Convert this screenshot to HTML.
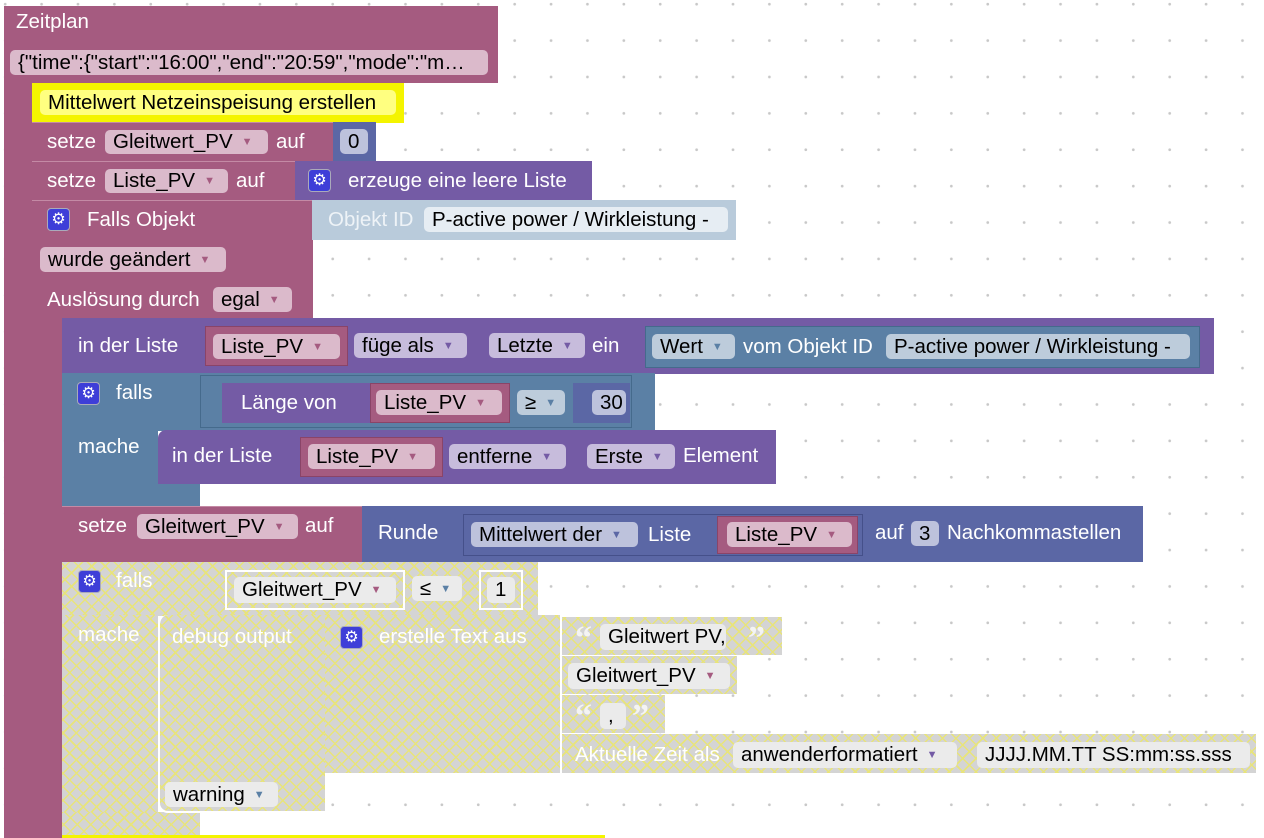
<!DOCTYPE html>
<html><head><meta charset="utf-8"><style>
html,body{margin:0;padding:0}
body{width:1264px;height:838px;overflow:hidden;position:relative;background:#fff;
background-image:radial-gradient(circle,#c8c8c8 1.2px,transparent 1.6px);background-size:36.4px 36.4px;background-position:-13px -14px;
font-family:"Liberation Sans",sans-serif}
.b{position:absolute;box-sizing:border-box}
.t{position:absolute;color:#fff;font-size:20.5px;line-height:24px;white-space:nowrap}
.f{position:absolute;border-radius:5px;color:#000;font-size:20.5px;display:flex;align-items:center;padding-left:8px;box-sizing:border-box;white-space:nowrap;overflow:hidden}
.a{font-size:11px;margin-left:9px}
.pk{background:#a55b80}.pf{background:#dbbacb}
.pu{background:#745ba5}.puf{background:#c7bcdc}
.lo{background:#5b80a5}.lof{background:#bdccdb}
.ma{background:#5b67a5}.maf{background:#bdc2dc}
.dis{background:repeating-linear-gradient(45deg,transparent 0 8px,#e8e47a 8px 9.5px),repeating-linear-gradient(-45deg,transparent 0 8px,#e8e47a 8px 9.5px),#d4d4d4}
.df{background:#ebebeb}
.q{position:absolute;color:#f4f4f4;font-size:34px;font-weight:bold;font-family:"Liberation Serif",serif;line-height:34px}
.g{position:absolute;width:23px;height:23px;border-radius:4px;background:#3e3ed8;border:1px solid #aab;box-sizing:border-box;color:#fff;font-size:16px;line-height:21px;text-align:center}
</style></head><body>
<!-- Zeitplan -->
<div class="b pk" style="left:4px;top:6px;width:494px;height:77px"></div>
<div class="b pk" style="left:4px;top:82px;width:29px;height:756px"></div>
<div class="t" style="left:16px;top:10px">Zeitplan</div>
<div class="f pf" style="left:10px;top:50px;width:478px;height:25px">{"time":{"start":"16:00","end":"20:59","mode":"m…</div>
<!-- comment -->
<div class="b" style="left:32px;top:83px;width:372px;height:40px;background:#f4f400"></div>
<div class="f" style="left:40px;top:90px;width:356px;height:25px;background:#ffff80">Mittelwert Netzeinspeisung erstellen</div>
<!-- setze Gleitwert -->
<div class="b pk" style="left:32px;top:122px;width:302px;height:40px;border-top:1px solid #c48aa5"></div>
<div class="t" style="left:47px;top:130px">setze</div>
<div class="f pf" style="left:105px;top:130px;width:163px;height:24px">Gleitwert_PV<span class="a" style="color:#a55b80">▼</span></div>
<div class="t" style="left:276px;top:130px">auf</div>
<div class="b ma" style="left:333px;top:122px;width:43px;height:40px"></div>
<div class="f maf" style="left:340px;top:129px;width:28px;height:25px">0</div>
<!-- setze Liste -->
<div class="b pk" style="left:32px;top:161px;width:264px;height:40px;border-top:1px solid #c48aa5"></div>
<div class="t" style="left:47px;top:169px">setze</div>
<div class="f pf" style="left:105px;top:169px;width:123px;height:24px">Liste_PV<span class="a" style="color:#a55b80">▼</span></div>
<div class="t" style="left:236px;top:169px">auf</div>
<div class="b pu" style="left:295px;top:161px;width:297px;height:40px"></div>
<div class="g" style="left:308px;top:169px">⚙</div>
<div class="t" style="left:348px;top:169px">erzeuge eine leere Liste</div>
<!-- Falls Objekt -->
<div class="b pk" style="left:32px;top:200px;width:281px;height:119px;border-top:1px solid #c48aa5"></div>
<div class="b pk" style="left:32px;top:318px;width:30px;height:520px"></div>
<div class="g" style="left:47px;top:208px">⚙</div>
<div class="t" style="left:87px;top:208px">Falls Objekt</div>
<div class="b" style="left:312px;top:200px;width:424px;height:40px;background:#b9cbdb"></div>
<div class="t" style="left:328px;top:208px;color:#eef3f7">Objekt ID</div>
<div class="f" style="left:424px;top:207px;width:304px;height:25px;background:#e6edf3">P-active power / Wirkleistung -</div>
<div class="f pf" style="left:40px;top:247px;width:186px;height:25px">wurde geändert<span class="a" style="color:#a55b80">▼</span></div>
<div class="t" style="left:47px;top:288px">Auslösung durch</div>
<div class="f pf" style="left:213px;top:287px;width:79px;height:25px">egal<span class="a" style="color:#a55b80">▼</span></div>
<!-- in der Liste -->
<div class="b pu" style="left:62px;top:318px;width:1152px;height:56px"></div>
<div class="t" style="left:78px;top:334px">in der Liste</div>
<div class="b pk" style="left:205px;top:326px;width:143px;height:40px;border:1px solid #8a4468"></div>
<div class="f pf" style="left:213px;top:334px;width:127px;height:25px">Liste_PV<span class="a" style="color:#a55b80">▼</span></div>
<div class="f puf" style="left:354px;top:333px;width:113px;height:25px">füge als<span class="a" style="color:#745ba5">▼</span></div>
<div class="f puf" style="left:489px;top:333px;width:96px;height:25px">Letzte<span class="a" style="color:#745ba5">▼</span></div>
<div class="t" style="left:592px;top:334px">ein</div>
<div class="b lo" style="left:645px;top:326px;width:555px;height:42px;border:1px solid #456a8c"></div>
<div class="f lof" style="left:652px;top:334px;width:83px;height:25px">Wert<span class="a" style="color:#5b80a5">▼</span></div>
<div class="t" style="left:743px;top:335px">vom Objekt ID</div>
<div class="f lof" style="left:886px;top:334px;width:304px;height:25px">P-active power / Wirkleistung -</div>
<!-- falls -->
<div class="b lo" style="left:62px;top:373px;width:593px;height:58px"></div>
<div class="b lo" style="left:62px;top:430px;width:96px;height:62px"></div>
<div class="b lo" style="left:62px;top:484px;width:138px;height:23px"></div>
<div class="g" style="left:77px;top:382px">⚙</div>
<div class="t" style="left:116px;top:381px">falls</div>
<div class="t" style="left:78px;top:435px">mache</div>
<div class="b lo" style="left:200px;top:375px;width:432px;height:53px;border:1px solid #456a8c"></div>
<div class="b pu" style="left:222px;top:383px;width:148px;height:40px"></div>
<div class="t" style="left:241px;top:391px">Länge von</div>
<div class="b pk" style="left:370px;top:383px;width:140px;height:40px;border:1px solid #8a4468"></div>
<div class="f pf" style="left:376px;top:390px;width:126px;height:25px">Liste_PV<span class="a" style="color:#a55b80">▼</span></div>
<div class="f lof" style="left:517px;top:390px;width:48px;height:25px">≥<span class="a" style="color:#5b80a5">▼</span></div>
<div class="b ma" style="left:573px;top:383px;width:57px;height:40px"></div>
<div class="f maf" style="left:592px;top:390px;width:34px;height:25px">30</div>
<!-- inner in der Liste -->
<div class="b pu" style="left:158px;top:430px;width:618px;height:54px;border-radius:8px 0 0 0"></div>
<div class="t" style="left:172px;top:444px">in der Liste</div>
<div class="b pk" style="left:300px;top:437px;width:143px;height:40px;border:1px solid #8a4468"></div>
<div class="f pf" style="left:308px;top:444px;width:127px;height:25px">Liste_PV<span class="a" style="color:#a55b80">▼</span></div>
<div class="f puf" style="left:449px;top:444px;width:117px;height:25px">entferne<span class="a" style="color:#745ba5">▼</span></div>
<div class="f puf" style="left:587px;top:444px;width:88px;height:25px">Erste<span class="a" style="color:#745ba5">▼</span></div>
<div class="t" style="left:683px;top:444px">Element</div>
<!-- setze Gleitwert Runde -->
<div class="b pk" style="left:62px;top:506px;width:301px;height:56px;border-top:1px solid #c48aa5"></div>
<div class="t" style="left:78px;top:514px">setze</div>
<div class="f pf" style="left:137px;top:514px;width:161px;height:25px">Gleitwert_PV<span class="a" style="color:#a55b80">▼</span></div>
<div class="t" style="left:305px;top:514px">auf</div>
<div class="b ma" style="left:362px;top:506px;width:781px;height:56px"></div>
<div class="t" style="left:378px;top:521px">Runde</div>
<div class="b ma" style="left:463px;top:514px;width:400px;height:42px;border:1px solid #45508a"></div>
<div class="f maf" style="left:471px;top:522px;width:167px;height:25px">Mittelwert der<span class="a" style="color:#5b67a5">▼</span></div>
<div class="t" style="left:648px;top:523px">Liste</div>
<div class="b pk" style="left:717px;top:516px;width:141px;height:38px;border:1px solid #8a4468"></div>
<div class="f pf" style="left:727px;top:522px;width:125px;height:25px">Liste_PV<span class="a" style="color:#a55b80">▼</span></div>
<div class="t" style="left:875px;top:521px">auf</div>
<div class="f maf" style="left:911px;top:521px;width:28px;height:25px">3</div>
<div class="t" style="left:947px;top:521px">Nachkommastellen</div>
<!-- disabled falls -->
<div class="b dis" style="left:62px;top:562px;width:476px;height:54px"></div>
<div class="b dis" style="left:62px;top:615px;width:96px;height:210px"></div>
<div class="b dis" style="left:62px;top:812px;width:138px;height:23px"></div>
<div class="b" style="left:62px;top:835px;width:543px;height:3px;background:#f4f400"></div>
<div class="g" style="left:78px;top:570px">⚙</div>
<div class="t" style="left:116px;top:569px">falls</div>
<div class="t" style="left:78px;top:623px">mache</div>
<div class="b" style="left:225px;top:570px;width:180px;height:40px;border:2px solid #fff"></div>
<div class="f df" style="left:234px;top:577px;width:162px;height:26px">Gleitwert_PV<span class="a" style="color:#a55b80">▼</span></div>
<div class="f df" style="left:412px;top:576px;width:50px;height:25px">≤<span class="a" style="color:#5b80a5">▼</span></div>
<div class="b" style="left:479px;top:570px;width:44px;height:40px;border:2px solid #fff"></div>
<div class="f df" style="left:487px;top:577px;width:28px;height:26px">1</div>
<!-- debug -->
<div class="b dis" style="left:158px;top:615px;width:167px;height:198px;border-left:2px solid #fff;border-bottom:2px solid #fff;border-radius:10px 0 0 10px"></div>
<div class="t" style="left:172px;top:625px">debug output</div>
<div class="f df" style="left:165px;top:782px;width:113px;height:25px">warning<span class="a" style="color:#5b80a5">▼</span></div>
<div class="b dis" style="left:325px;top:615px;width:235px;height:158px"></div>
<div class="g" style="left:340px;top:626px">⚙</div>
<div class="t" style="left:379px;top:625px">erstelle Text aus</div>
<div class="b dis" style="left:560px;top:617px;width:222px;height:38px;border-left:2px solid #fff"></div>
<div class="q" style="left:575px;top:622px">“</div>
<div class="f df" style="left:600px;top:624px;width:126px;height:26px">Gleitwert PV,</div>
<div class="q" style="left:748px;top:622px">”</div>
<div class="b dis" style="left:560px;top:656px;width:177px;height:38px;border-left:2px solid #fff"></div>
<div class="f df" style="left:568px;top:663px;width:162px;height:26px">Gleitwert_PV<span class="a" style="color:#a55b80">▼</span></div>
<div class="b dis" style="left:560px;top:695px;width:105px;height:38px;border-left:2px solid #fff"></div>
<div class="q" style="left:575px;top:700px">“</div>
<div class="f df" style="left:600px;top:703px;width:26px;height:26px">,</div>
<div class="q" style="left:632px;top:700px">”</div>
<div class="b dis" style="left:560px;top:734px;width:696px;height:39px;border-left:2px solid #fff"></div>
<div class="t" style="left:575px;top:743px">Aktuelle Zeit als</div>
<div class="f df" style="left:733px;top:742px;width:224px;height:26px">anwenderformatiert<span class="a" style="color:#745ba5">▼</span></div>
<div class="f df" style="left:977px;top:742px;width:273px;height:26px">JJJJ.MM.TT SS:mm:ss.sss</div>
</body></html>
